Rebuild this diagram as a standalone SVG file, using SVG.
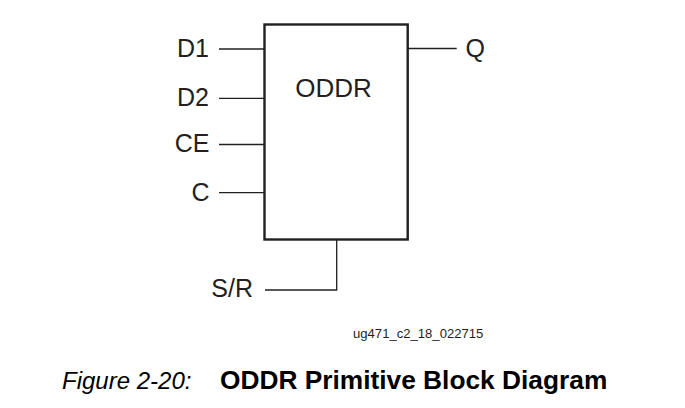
<svg xmlns="http://www.w3.org/2000/svg" width="685" height="408" viewBox="0 0 685 408">
<style>
.lbl{font-family:"Liberation Sans",Arial,sans-serif;font-size:25px;fill:#231f20}
.wire{stroke:#231f20;stroke-width:1.3;fill:none}
.box{stroke:#231f20;stroke-width:2.4;fill:#fff}
</style>
<rect width="685" height="408" fill="#fff"/>
<g id="oddr">
<rect class="box" x="264.5" y="24.5" width="143.2" height="215"/>
<text class="lbl" x="333.5" y="97.3" text-anchor="middle" style="font-size:26px">ODDR</text>
</g>
<g id="connectors">
<line class="wire" x1="219" y1="49" x2="264.5" y2="49"/>
<line class="wire" x1="219" y1="98.3" x2="264.5" y2="98.3"/>
<line class="wire" x1="219" y1="144.5" x2="264.5" y2="144.5"/>
<line class="wire" x1="219" y1="192.7" x2="264.5" y2="192.7"/>
<line class="wire" x1="407.7" y1="48.5" x2="456.7" y2="48.5"/>
<polyline class="wire" points="265,290 336.7,290 336.7,239.5"/>
</g>
<g id="pin-D1"><text class="lbl" x="209" y="56.7" text-anchor="end">D1</text></g>
<g id="pin-D2"><text class="lbl" x="209" y="106" text-anchor="end">D2</text></g>
<g id="pin-CE"><text class="lbl" x="209.5" y="152.3" text-anchor="end">CE</text></g>
<g id="pin-C"><text class="lbl" x="209.5" y="201" text-anchor="end">C</text></g>
<g id="pin-SR"><text class="lbl" x="253" y="297" text-anchor="end">S/R</text></g>
<g id="pin-Q"><text class="lbl" x="465.5" y="57.3">Q</text></g>
<text x="353" y="337.7" style="font-family:'Liberation Sans',Arial,sans-serif;font-size:13.1px;fill:#231f20">ug471_c2_18_022715</text>
<text x="62" y="389.3" style="font-family:'Liberation Sans',Arial,sans-serif;font-size:24px;font-style:italic;fill:#000">Figure 2-20:</text>
<text x="220" y="389.3" style="font-family:'Liberation Sans',Arial,sans-serif;font-size:26.3px;font-weight:bold;fill:#000">ODDR Primitive Block Diagram</text>
</svg>
